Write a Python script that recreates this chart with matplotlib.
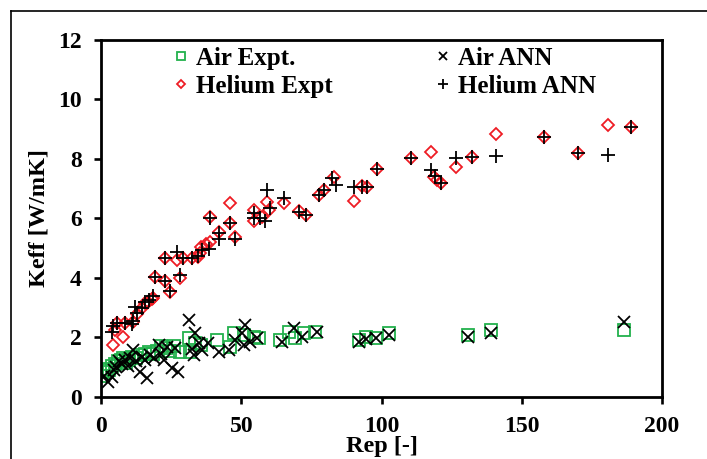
import numpy as np
import matplotlib
matplotlib.use("Agg")
import matplotlib.pyplot as plt
from matplotlib.lines import Line2D

# Air, experiment
air_exp_re = [0.5, 1.2, 2.0, 3.0, 4.0, 5.0, 6.0, 7.0, 8.0, 9.0, 10.0, 11.0, 12.5, 14.0,
              15.5, 17.0, 18.5, 20.0, 21.5, 23.0, 24.5, 26.0, 28.0, 31.2, 31.8, 33.6,
              35.5, 41.3, 46.1, 47.3, 50.8, 54.4, 56.2, 63.9, 66.9, 69.3, 72.3, 76.4,
              91.9, 94.3, 97.9, 102.6, 130.8, 138.9, 186.5]
air_exp_k = [0.70, 0.85, 0.95, 0.90, 1.05, 1.10, 1.20, 1.25, 1.30, 1.15, 1.25, 1.35, 1.30,
             1.40, 1.45, 1.50, 1.45, 1.55, 1.70, 1.65, 1.55, 1.70, 1.50, 1.97, 1.52, 1.80,
             1.75, 1.92, 1.69, 2.14, 2.10, 2.03, 1.97, 1.92, 2.20, 1.97, 2.14, 2.20,
             1.90, 2.00, 1.97, 2.14, 2.08, 2.25, 2.25]

# Air, ANN prediction
air_ann_re = [1.0, 2.6, 3.8, 4.5, 5.5, 6.5, 7.5, 8.5, 9.5, 10.5, 11.5, 12.5, 13.9, 14.5,
              15.5, 16.3, 17.5, 19.0, 20.5, 21.5, 22.5, 23.5, 25.2, 26.4, 27.6, 31.2,
              32.4, 33.0, 33.6, 34.8, 36.0, 38.3, 41.9, 45.5, 47.9, 50.2, 50.8, 51.4,
              53.2, 55.6, 64.5, 68.7, 71.7, 77.0, 91.9, 94.3, 97.9, 102.6, 130.8, 138.9,
              186.5]
air_ann_k = [0.70, 0.51, 0.67, 0.90, 1.00, 1.20, 1.10, 1.25, 1.05, 1.30, 1.58, 1.20, 0.85,
             1.35, 1.25, 0.63, 1.40, 1.30, 1.75, 1.45, 1.25, 1.69, 0.96, 1.64, 0.85, 2.59,
             1.60, 1.41, 2.15, 1.80, 1.58, 1.80, 1.52, 1.58, 1.92, 2.14, 1.75, 2.42,
             1.86, 1.97, 1.85, 2.31, 2.00, 2.20, 1.85, 1.95, 1.97, 2.10, 2.02, 2.15,
             2.53]

# Helium, experiment
he_exp_re = [4.4, 5.0, 5.7, 8.0, 8.6, 11.5, 13.0, 14.5, 15.8, 16.9, 18.2, 18.7, 19.3,
             22.9, 22.9, 24.6, 27.0, 28.2, 29.4, 32.4, 34.5, 35.4, 35.7, 37.5, 38.9,
             38.9, 41.9, 46.1, 46.1, 47.6, 54.4, 54.4, 57.5, 59.2, 60.0, 65.1, 70.5,
             72.9, 77.6, 79.4, 83.0, 90.1, 93.1, 94.9, 98.5, 110.6, 117.5, 118.7, 119.9,
             121.3, 126.4, 132.4, 140.7, 158.0, 169.9, 180.6, 188.9]
he_exp_k = [1.75, 2.25, 2.48, 2.03, 2.48, 2.53, 2.80, 2.98, 3.15, 3.20, 3.30, 3.32, 4.04,
            3.91, 4.66, 3.54, 4.60, 3.99, 4.66, 4.66, 4.70, 4.83, 5.05, 5.15, 5.22,
            6.06, 5.56, 6.53, 5.84, 5.39, 6.29, 5.93, 6.05, 6.57, 6.30, 6.51, 6.26,
            6.12, 6.79, 6.96, 7.38, 6.59, 7.09, 7.05, 7.66, 8.02, 8.25, 7.38, 7.29,
            7.20, 7.74, 8.08, 8.84, 8.75, 8.19, 9.14, 9.06]

# Helium, ANN prediction
he_ann_re = [3.8, 4.4, 5.7, 8.6, 11.2, 11.5, 12.1, 13.0, 14.5, 15.8, 17.2, 18.7, 19.3,
             22.9, 22.9, 24.6, 27.0, 28.2, 29.4, 32.4, 34.5, 36.0, 38.5, 38.9, 41.9,
             41.9, 46.1, 47.6, 54.4, 54.4, 56.8, 58.6, 59.2, 60.4, 65.1, 70.5, 72.9,
             77.6, 79.4, 82.4, 83.6, 90.1, 93.1, 94.9, 98.5, 110.6, 117.5, 118.9, 121.3,
             126.4, 132.4, 140.7, 158.0, 169.9, 180.6, 188.9]
he_ann_k = [2.20, 2.39, 2.50, 2.50, 2.45, 2.55, 3.04, 2.82, 3.00, 3.20, 3.25, 3.40, 4.04,
            3.91, 4.66, 3.55, 4.88, 4.10, 4.66, 4.66, 4.75, 4.95, 4.99, 6.02, 5.50,
            5.30, 5.84, 5.30, 6.20, 6.00, 6.00, 5.90, 6.96, 6.34, 6.68, 6.23, 6.12,
            6.79, 6.96, 7.35, 7.12, 7.05, 7.07, 7.05, 7.66, 8.02, 7.63, 7.42, 7.20,
            8.02, 8.06, 8.10, 8.75, 8.19, 8.13, 9.06]

green = "#22b14c"
red = "#ee1c24"

plt.rcParams["font.family"] = ["Liberation Serif", "DejaVu Serif"]
plt.rcParams["font.weight"] = "bold"

fig = plt.figure(figsize=(7.07, 4.59), dpi=100)
ax = fig.add_axes([0.1429, 0.1351, 0.7935, 0.7778])

ax.plot(air_exp_re, air_exp_k, ls="none", marker="s", ms=8.5, mfc="none",
        mec=green, mew=1.3, label="Air Expt.")
ax.plot(he_exp_re, he_exp_k, ls="none", marker="D", ms=6.5, mfc="none",
        mec=red, mew=1.3, label="Helium Expt")
ax.plot(air_ann_re, air_ann_k, ls="none", marker="x", ms=9, mec="black",
        mew=1.3, label="Air ANN")
ax.plot(he_ann_re, he_ann_k, ls="none", marker="+", ms=10, mec="black",
        mew=1.3, label="Helium ANN")

ax.set_xlim(0, 200)
ax.set_ylim(0, 12)
ax.set_xticks(np.arange(0, 201, 50))
ax.set_yticks(np.arange(0, 13, 2))
ax.tick_params(direction="out", length=5, width=1.9, labelsize=17, pad=9)
for s in ax.spines.values():
    s.set_linewidth(2.0)

ax.set_xlabel("Rep [-]", fontsize=17.5, fontweight="bold", labelpad=-1)
ax.set_ylabel("Keff [W/mK]", fontsize=17.5, fontweight="bold", labelpad=6)

leg = ax.legend(ncol=2, loc="upper left", bbox_to_anchor=(0.129, 0.98), frameon=False,
                fontsize=18, markerscale=0.7, handlelength=0.6, handletextpad=0.3,
                columnspacing=4.1, labelspacing=0.2, borderpad=0, borderaxespad=0)
for t in leg.get_texts():
    t.set_fontweight("bold")

# outer frame round the plot area
fig.add_artist(Line2D([11 / 707, 11 / 707], [0, 1 - 11 / 459], color="black", lw=1.2))
fig.add_artist(Line2D([11 / 707, 1], [1 - 11 / 459, 1 - 11 / 459], color="black", lw=1.2))

fig.savefig("out.png", dpi=100)
